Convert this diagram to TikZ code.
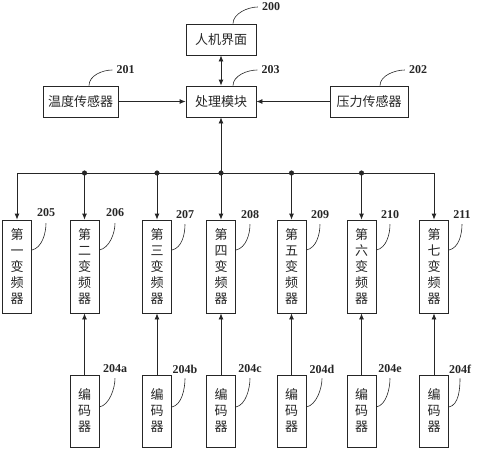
\documentclass[tikz,border=0pt]{standalone}
\usepackage{fontspec}
\setmainfont{Liberation Serif}
\newfontfamily\cjk{Noto Sans CJK SC}
\usetikzlibrary{arrows.meta}
\tikzset{
  blk/.style={draw=black!85, line width=0.8pt, text=black!85, inner sep=0pt,
    font=\cjk\fontsize{13}{16}\selectfont},
  hbox/.style={blk, minimum width=70, minimum height=31},
  inv/.style={blk, minimum width=29, minimum height=93, align=center},
  enc/.style={blk, minimum width=29, minimum height=72, align=center},
  num/.style={text=black!85, inner sep=0pt, font=\bfseries\fontsize{12}{14}\selectfont},
  lead/.style={draw=black!85, line width=0.6pt},
  wire/.style={draw=black!85, line width=0.8pt},
  arr/.style={wire, -{Latex[length=6pt,width=5pt]}},
  darr/.style={wire, {Latex[length=6pt,width=5pt]}-{Latex[length=6pt,width=5pt]}},
}
\begin{document}
\begin{tikzpicture}[x=1pt,y=-1pt]
\useasboundingbox (0,0) rectangle (479,450);
% top row
\node[hbox] (hmi) at (221,39.5) {人机界面};
\node[hbox, minimum width=75] (temp) at (80.5,101.5) {温度传感器};
\node[hbox] (cpu) at (221,101.5) {处理模块};
\node[hbox, minimum width=78] (pres) at (369,101.5) {压力传感器};
\node[num] (n200) at (271,7) {200};
\node[num] (n201) at (125.5,70) {201};
\node[num] (n203) at (270.5,70) {203};
\node[num] (n202) at (418,70) {202};
\draw[darr] (hmi) -- (cpu);
\draw[arr] (temp) -- (cpu);
\draw[arr] (pres) -- (cpu);
\draw[lead] ([xshift=12pt]hmi.north) .. controls +(0,-10) and +(-10,0) .. ([xshift=-4pt]n200.west);
\draw[lead] ([xshift=8.5pt]temp.north) .. controls +(0,-10) and +(-10,0) .. ([xshift=-4pt]n201.west);
\draw[lead] ([xshift=12pt]cpu.north) .. controls +(0,-10) and +(-10,0) .. ([xshift=-4pt]n203.west);
\draw[lead] ([xshift=11pt]pres.north) .. controls +(0,-10) and +(-10,0) .. ([xshift=-4pt]n202.west);
% inverters
\node[inv] (inv1) at (17,266.5) {第\\一\\变\\频\\器};
\node[inv] (inv2) at (84.5,266.5) {第\\二\\变\\频\\器};
\node[inv] (inv3) at (157,266.5) {第\\三\\变\\频\\器};
\node[inv] (inv4) at (221,266.5) {第\\四\\变\\频\\器};
\node[inv] (inv5) at (291.5,266.5) {第\\五\\变\\频\\器};
\node[inv] (inv6) at (361.5,266.5) {第\\六\\变\\频\\器};
\node[inv] (inv7) at (434,266.5) {第\\七\\变\\频\\器};
\node[num] (n205) at (46,213) {205};
\node[num] (n206) at (115,213) {206};
\node[num] (n207) at (185,215) {207};
\node[num] (n208) at (250,215) {208};
\node[num] (n209) at (320,215) {209};
\node[num] (n210) at (390,215) {210};
\node[num] (n211) at (462,215) {211};
% bus
\coordinate (bus) at (221,173);
\draw[arr] (bus) -- (cpu);
\draw[wire] (inv1.north |- bus) -- (inv7.north |- bus);
\draw[arr] (inv1.north |- bus) -- (inv1.north);
\draw[arr] (inv2.north |- bus) -- (inv2.north);
\draw[arr] (inv3.north |- bus) -- (inv3.north);
\draw[arr] (inv4.north |- bus) -- (inv4.north);
\draw[arr] (inv5.north |- bus) -- (inv5.north);
\draw[arr] (inv6.north |- bus) -- (inv6.north);
\draw[arr] (inv7.north |- bus) -- (inv7.north);
\filldraw[black!85] (inv2.north |- bus) circle (2.3);
\filldraw[black!85] (inv3.north |- bus) circle (2.3);
\filldraw[black!85] (bus) circle (2.3);
\filldraw[black!85] (inv5.north |- bus) circle (2.3);
\filldraw[black!85] (inv6.north |- bus) circle (2.3);
\draw[lead] ([yshift=16.5pt]inv1.east) .. controls +(10,-2) and +(0,10) .. ([yshift=-6pt]n205.south);
\draw[lead] ([yshift=16.5pt]inv2.east) .. controls +(10,-2) and +(0,10) .. ([yshift=-6pt]n206.south);
\draw[lead] ([yshift=16.5pt]inv3.east) .. controls +(10,-2) and +(0,10) .. ([yshift=-5pt]n207.south);
\draw[lead] ([yshift=16.5pt]inv4.east) .. controls +(10,-2) and +(0,10) .. ([yshift=-5pt]n208.south);
\draw[lead] ([yshift=16.5pt]inv5.east) .. controls +(10,-2) and +(0,10) .. ([yshift=-5pt]n209.south);
\draw[lead] ([yshift=16.5pt]inv6.east) .. controls +(10,-2) and +(0,10) .. ([yshift=-5pt]n210.south);
\draw[lead] ([yshift=16.5pt]inv7.east) .. controls +(10,-2) and +(0,10) .. ([yshift=-5pt]n211.south);
% encoders
\node[enc] (enc2) at (84.5,411) {编\\码\\器};
\node[enc] (enc3) at (157,411) {编\\码\\器};
\node[enc] (enc4) at (221,411) {编\\码\\器};
\node[enc] (enc5) at (291.5,411) {编\\码\\器};
\node[enc] (enc6) at (361.5,411) {编\\码\\器};
\node[enc] (enc7) at (434,411) {编\\码\\器};
\node[num] (n204a) at (115,369) {204a};
\node[num] (n204b) at (185,369) {204b};
\node[num] (n204c) at (250,369) {204c};
\node[num] (n204d) at (322,369) {204d};
\node[num] (n204e) at (390,369) {204e};
\node[num] (n204f) at (460,369) {204f};
\draw[arr] (enc2) -- (inv2);
\draw[arr] (enc3) -- (inv3);
\draw[arr] (enc4) -- (inv4);
\draw[arr] (enc5) -- (inv5);
\draw[arr] (enc6) -- (inv6);
\draw[arr] (enc7) -- (inv7);
\draw[lead] ([yshift=4pt]enc2.east) .. controls +(10,-2) and +(0,10) .. ([yshift=-5pt]n204a.south);
\draw[lead] ([yshift=4pt]enc3.east) .. controls +(10,-2) and +(0,10) .. ([yshift=-5pt]n204b.south);
\draw[lead] ([yshift=4pt]enc4.east) .. controls +(10,-2) and +(0,10) .. ([yshift=-5pt]n204c.south);
\draw[lead] ([yshift=4pt]enc5.east) .. controls +(10,-2) and +(0,10) .. ([yshift=-5pt]n204d.south);
\draw[lead] ([yshift=4pt]enc6.east) .. controls +(10,-2) and +(0,10) .. ([yshift=-5pt]n204e.south);
\draw[lead] ([yshift=4pt]enc7.east) .. controls +(10,-2) and +(0,10) .. ([yshift=-5pt]n204f.south);
\end{tikzpicture}
\end{document}
